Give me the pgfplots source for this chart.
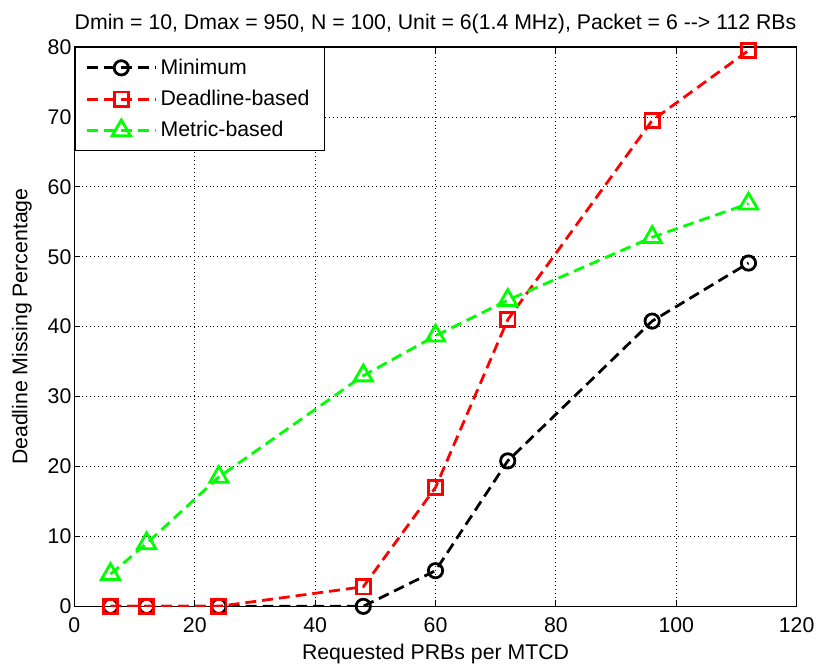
\documentclass[border=0pt]{standalone}
\usepackage{pgfplots}
\pgfplotsset{compat=1.18}
\usepackage{fontspec}
\setmainfont{Liberation Sans}
\begin{document}
\begin{tikzpicture}
\begin{axis}[
  scale only axis,
  width=363.5pt, height=281.5pt,
  xmin=0, xmax=120, ymin=0, ymax=80,
  xtick={0,20,...,120}, ytick={0,10,...,80},
  tick align=inside, major tick length=3pt,
  tick style={black, line width=0.5pt},
  ticklabel style={font=\fontsize{10.7}{12.5}\selectfont},
  yticklabel style={xshift=2pt},
  xticklabel style={yshift=-2pt},
  /pgf/number format/assume math mode=true,
  grid=major, major grid style={black, line width=0.4pt, dash pattern=on 0.5pt off 1.5pt},
  axis line style={black, line width=0.7pt},
  xlabel={Requested PRBs per MTCD},
  ylabel={Deadline Missing Percentage},
  label style={font=\fontsize{10.7}{12.5}\selectfont},
  title={Dmin = 10, Dmax = 950, N = 100, Unit = 6(1.4 MHz), Packet = 6 -{}-{}> 112 RBs},
  title style={font=\fontsize{10.7}{12.5}\selectfont, inner ysep=7pt, yshift=-6.5pt},
  xlabel style={inner ysep=0.3pt, yshift=-2.3pt},
  ylabel style={inner ysep=6pt, yshift=-1.5pt},
  legend style={at={(0,1)}, anchor=north west, font=\fontsize{10.7}{12.5}\selectfont, draw=black, line width=0.7pt, row sep=2.5pt, inner xsep=5.5pt, inner ysep=3.5pt},
  legend cell align=left,
  legend image code/.code={\draw[mark repeat=2, mark phase=2] plot coordinates {(0cm,0cm) (0.6cm,0cm) (1.2cm,0cm)};},
  every axis plot/.append style={line width=1.4pt, dash pattern=on 5.5pt off 3pt, mark options={solid, fill=none, line width=1.4pt}},
]
\addplot[black, mark=o, mark size=3.6pt] coordinates {(6,0) (12,0) (24,0) (48,0) (60,5.1) (72,20.8) (96,40.8) (112,49.1)};
\addplot[red, mark=square, mark size=3.6pt] coordinates {(6,0) (12,0) (24,0) (48,2.8) (60,17) (72,41) (96,69.5) (112,79.5)};
\addplot[green, mark=triangle, mark size=5.3pt] coordinates {(6,4.6) (12,9) (24,18.5) (48,33) (60,38.7) (72,43.8) (96,52.8) (112,57.6)};
\legend{Minimum, Deadline-based, Metric-based}
\end{axis}
\end{tikzpicture}
\end{document}
